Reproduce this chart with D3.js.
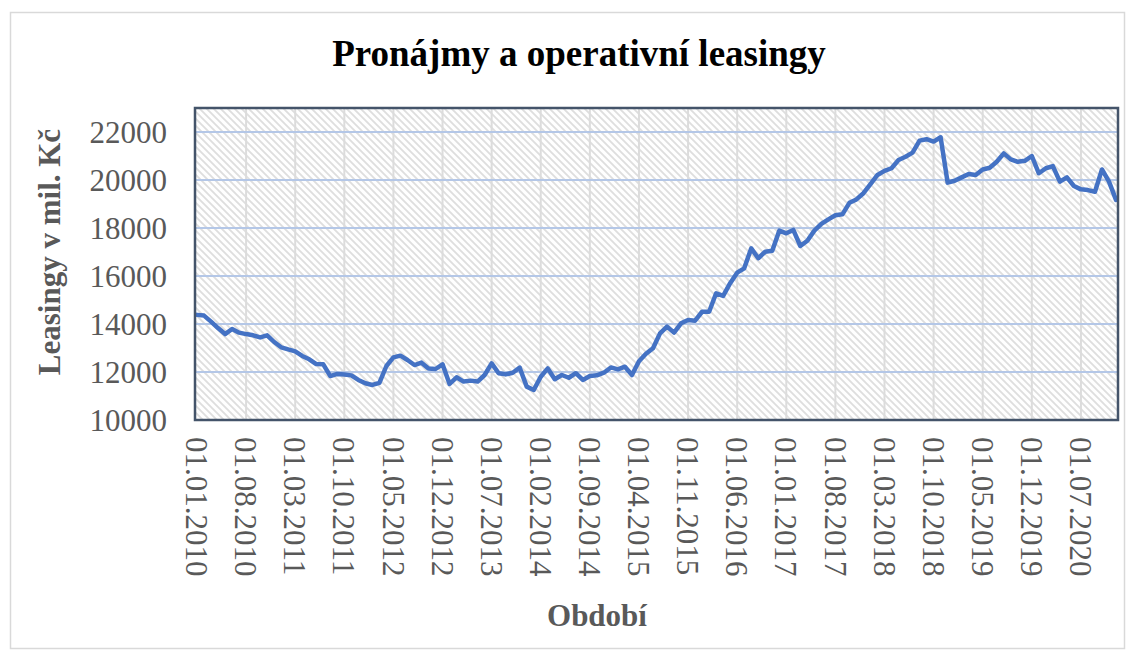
<!DOCTYPE html>
<html>
<head>
<meta charset="utf-8">
<script src="https://cdn.jsdelivr.net/npm/d3@7"></script>
<style>
  body { margin: 0; background: #fff; }
  text { font-family: "Liberation Serif", "Times New Roman", serif; }
</style>
</head>
<body>
<div id="chart"></div>
<script>
// Data (monthly, 01.01.2010 - 01.12.2020)
var startMonth = new Date(2010, 0, 1);
var endMonth = new Date(2021, 0, 1);

var leasingValues = [
  14380, 14350, 14100, 13830, 13580, 13790, 13640, 13580, 13530, 13440,
  13530, 13250, 13030, 12940, 12860, 12670, 12530, 12330, 12320, 11830,
  11920, 11900, 11860, 11670, 11530, 11460, 11550, 12250, 12610, 12680,
  12500, 12290, 12390, 12150, 12125, 12320, 11500, 11780, 11600, 11640,
  11600, 11875, 12360, 11950, 11900, 11970, 12180, 11390, 11250, 11800,
  12150, 11700, 11875, 11760, 11950, 11670, 11830, 11860, 11970, 12190,
  12110, 12220, 11875, 12450, 12760, 12990, 13610, 13890, 13640, 14030,
  14170, 14140, 14510, 14510, 15280, 15170, 15700, 16140, 16320, 17150,
  16740, 17010, 17050, 17890, 17780, 17920, 17250, 17470, 17890, 18170,
  18360, 18530, 18570, 19050, 19190, 19450, 19830, 20210, 20380, 20490,
  20830, 20970, 21140, 21640, 21700, 21600, 21780, 19890, 19970, 20110,
  20250, 20210, 20440, 20510, 20760, 21110, 20860, 20760, 20800, 21000,
  20280, 20490, 20580, 19930, 20110, 19750, 19610, 19580, 19510, 20440,
  19930, 19170
];

var xTickLabels = [
  "01.01.2010", "01.08.2010", "01.03.2011", "01.10.2011", "01.05.2012",
  "01.12.2012", "01.07.2013", "01.02.2014", "01.09.2014", "01.04.2015",
  "01.11.2015", "01.06.2016", "01.01.2017", "01.08.2017", "01.03.2018",
  "01.10.2018", "01.05.2019", "01.12.2019", "01.07.2020"
];

var yTicks = [10000, 12000, 14000, 16000, 18000, 20000, 22000];

var fmt = d3.timeFormat("%d.%m.%Y");
var months = d3.timeMonth.range(startMonth, endMonth).map(fmt);

var data = months.map(function(m, i) {
  return { month: m, value: leasingValues[i] };
});

// Set up chart
var svgWidth = 1135;
var svgHeight = 653;

var plot = { left: 195, right: 1118, top: 108, bottom: 420 };

var svg = d3.select("#chart")
  .append("svg")
  .attr("width", svgWidth)
  .attr("height", svgHeight);

// hatch pattern for the plot area
var defs = svg.append("defs");
var pat = defs.append("pattern")
  .attr("id", "hatch")
  .attr("patternUnits", "userSpaceOnUse")
  .attr("width", 7)
  .attr("height", 7);
pat.append("rect")
  .attr("width", 7)
  .attr("height", 7)
  .attr("fill", "#ffffff");
pat.append("path")
  .attr("d", "M-1,-1 L8,8 M-1,6 L1,8 M6,-1 L8,1")
  .attr("stroke", "#dedede")
  .attr("stroke-width", 1.8);

// outer chart border
svg.append("rect")
  .attr("x", 10.5)
  .attr("y", 12.5)
  .attr("width", 1114)
  .attr("height", 636)
  .attr("fill", "none")
  .attr("stroke", "#d9d9d9")
  .attr("stroke-width", 1.5);

// Scales
var xScale = d3.scalePoint()
  .domain(months)
  .range([197, 1116]);

var yScale = d3.scaleLinear()
  .domain([10000, 23000])
  .range([plot.bottom, plot.top]);

// plot background
svg.append("rect")
  .attr("x", plot.left)
  .attr("y", plot.top)
  .attr("width", plot.right - plot.left)
  .attr("height", plot.bottom - plot.top)
  .attr("fill", "url(#hatch)");

// vertical gridlines
svg.append("g")
  .selectAll("line")
  .data(xTickLabels.slice(1))
  .enter()
  .append("line")
  .attr("x1", d => xScale(d))
  .attr("x2", d => xScale(d))
  .attr("y1", plot.top)
  .attr("y2", plot.bottom)
  .attr("stroke", "#dcdcdc")
  .attr("stroke-width", 2);

// horizontal gridlines
svg.append("g")
  .selectAll("line")
  .data(yTicks.slice(1))
  .enter()
  .append("line")
  .attr("x1", plot.left)
  .attr("x2", plot.right)
  .attr("y1", d => yScale(d))
  .attr("y2", d => yScale(d))
  .attr("stroke", "#b4c7e7")
  .attr("stroke-width", 2);

// line
var line = d3.line()
  .x(d => xScale(d.month))
  .y(d => yScale(d.value));

svg.append("path")
  .datum(data)
  .attr("d", line)
  .attr("fill", "none")
  .attr("stroke", "#4472c4")
  .attr("stroke-width", 4.5)
  .attr("stroke-linejoin", "round")
  .attr("stroke-linecap", "round");

// plot border
svg.append("rect")
  .attr("x", plot.left)
  .attr("y", plot.top)
  .attr("width", plot.right - plot.left)
  .attr("height", plot.bottom - plot.top)
  .attr("fill", "none")
  .attr("stroke", "#44546a")
  .attr("stroke-width", 2.5);

// y tick labels
svg.append("g")
  .selectAll("text")
  .data(yTicks)
  .enter()
  .append("text")
  .attr("x", 167)
  .attr("y", d => yScale(d))
  .attr("dy", "0.35em")
  .attr("text-anchor", "end")
  .attr("fill", "#595959")
  .style("font-size", "31px")
  .text(d => d);

// x tick labels (rotated)
svg.append("g")
  .selectAll("text")
  .data(xTickLabels)
  .enter()
  .append("text")
  .attr("transform", d => `translate(${xScale(d)}, 437) rotate(90)`)
  .attr("dy", "0.35em")
  .attr("text-anchor", "start")
  .attr("fill", "#595959")
  .style("font-size", "31px")
  .text(d => d);

// Title and axis titles
svg.append("text")
  .attr("x", 579)
  .attr("y", 66)
  .attr("text-anchor", "middle")
  .attr("fill", "#000")
  .style("font-size", "37px")
  .style("font-weight", "bold")
  .text("Pronájmy a operativní leasingy");

svg.append("text")
  .attr("transform", "translate(60, 252) rotate(-90)")
  .attr("text-anchor", "middle")
  .attr("fill", "#595959")
  .style("font-size", "31px")
  .style("font-weight", "bold")
  .text("Leasingy v mil. Kč");

svg.append("text")
  .attr("x", 597)
  .attr("y", 626)
  .attr("text-anchor", "middle")
  .attr("fill", "#595959")
  .style("font-size", "31px")
  .style("font-weight", "bold")
  .text("Období");
</script>
</body>
</html>
